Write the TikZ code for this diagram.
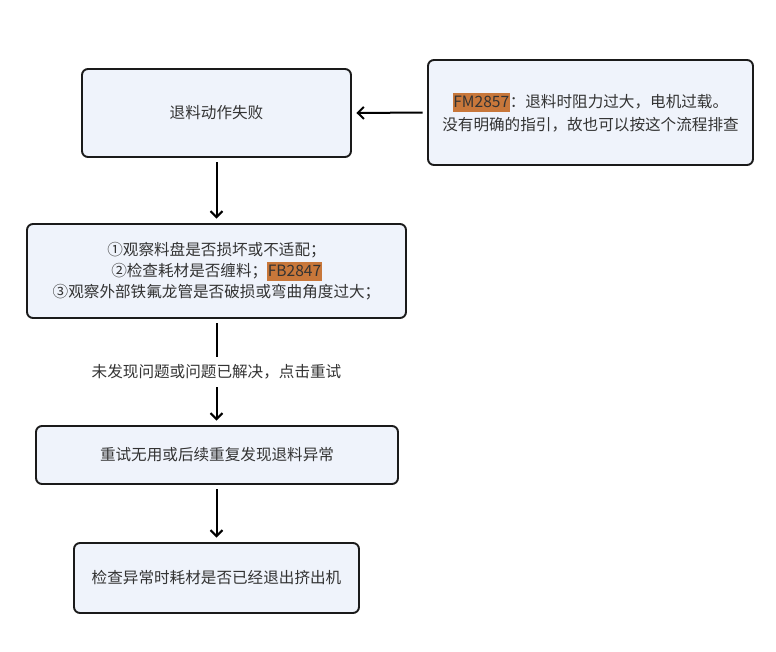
\documentclass[tikz,border=0pt]{standalone}
\usepackage{fontspec}
\setmainfont{Noto Sans CJK SC}
\usetikzlibrary{arrows.meta}
\definecolor{boxfill}{HTML}{EFF3FB}
\definecolor{boxline}{HTML}{1A1A1A}
\definecolor{txt}{HTML}{333333}
\definecolor{hl}{HTML}{C8773A}
\newcommand{\hlbox}[1]{{\setlength{\fboxsep}{0.5pt}\colorbox{hl}{\rule[-4.5pt]{0pt}{18pt}\textcolor{txt}{#1}}}}
\begin{document}
\begin{tikzpicture}[x=1pt,y=-1pt,
  flowbox/.style={draw=boxline, line width=1.9pt, rounded corners=6pt, fill=boxfill,
    text=txt, inner sep=0pt, font=\fontsize{15.6}{21}\selectfont, align=center},
  conn/.style={draw=black, line width=2pt, shorten <=4.5pt, shorten >=4.5pt,
    -{Straight Barb[length=6pt,width=12pt]}},
  lbl/.style={fill=white, text=txt, inner xsep=2pt, inner ysep=8pt, font=\fontsize{15.6}{21}\selectfont}]
\useasboundingbox (0,0) rectangle (776,651);
\node[flowbox, minimum width=269pt, minimum height=88pt] (a) at (216.5,113) {退料动作失败};
\node[flowbox, minimum width=325pt, minimum height=105pt, font=\fontsize{15.6}{23}\selectfont] (r) at (590.5,112.5)
  {\hlbox{FM2857}：退料时阻力过大，电机过载。\\没有明确的指引，故也可以按这个流程排查};
\node[flowbox, minimum width=379pt, minimum height=94pt] (b) at (216.5,271)
  {①观察料盘是否损坏或不适配；\\②检查耗材是否缠料；\hlbox{FB2847}\\③观察外部铁氟龙管是否破损或弯曲角度过大；};
\node[flowbox, minimum width=362pt, minimum height=58pt] (c) at (217,455) {重试无用或后续重复发现退料异常};
\node[flowbox, minimum width=285pt, minimum height=70pt] (d) at (216.5,578) {检查异常时耗材是否已经退出挤出机};
\draw[conn] (r.west) -- (a.east);
\draw[conn] (a.south) -- (a.south |- b.north);
\draw[conn] (b.south) -- node[lbl] (l) {未发现问题或问题已解决，点击重试} (b.south |- c.north);
\draw[conn] (c.south -| d.north) -- (d.north);
\end{tikzpicture}
\end{document}
